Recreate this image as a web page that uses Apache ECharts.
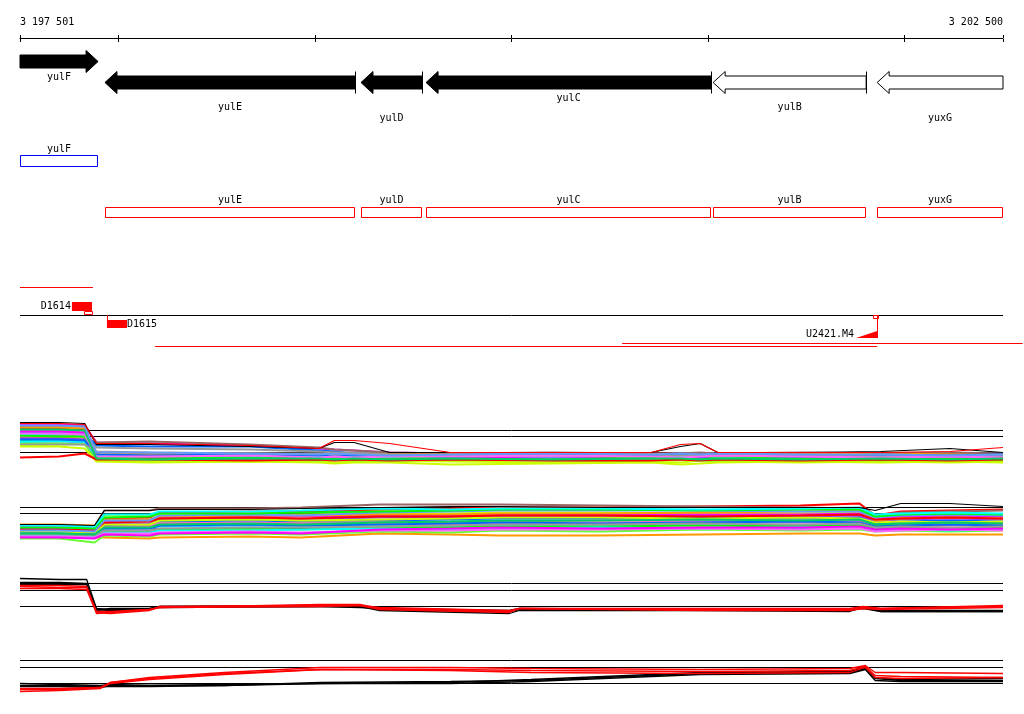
<!DOCTYPE html>
<html><head><meta charset="utf-8">
<script src="https://cdn.jsdelivr.net/npm/echarts@6/dist/echarts.min.js"></script>
<style>html,body{margin:0;padding:0;background:#fff}#c{width:1024px;height:714px}</style>
</head><body><div id="c"></div>
<script>
// ---------------- DATA ----------------
const VIEW_START = 3197501, VIEW_END = 3202500;
const axisTicks = [3197501, 3198000, 3199000, 3200000, 3201000, 3202000, 3202500];
const axisLabels = [3197501, 3202500];

const geneNames  = ['yulF', 'yulE', 'yulD', 'yulC', 'yulB', 'yuxG'];
const geneStart  = [3197501, 3197933, 3199235, 3199566, 3201026, 3201860];
const geneEnd    = [3197898, 3199205, 3199546, 3201016, 3201804, 3202500];
const geneStrand = ['+', '-', '-', '-', '-', '-'];
const geneFilled = [true, true, true, true, false, false];

const markerNames  = ['D1614', 'D1615', 'U2421.M4'];
const markerStart  = [3197765, 3197943, 3201753];
const markerEnd    = [3197867, 3198045, 3201860];
const markerStrand = ['+', '-', '-'];
const markerShape  = ['box', 'box', 'ramp'];
const siteStart = [3197827, 3201840];
const siteEnd   = [3197872, 3201870];
const siteStrand = ['+', '-'];
const upperReadStart = [3197501];
const upperReadEnd   = [3197872];
const lowerReadStart = [3198188, 3200563];
const lowerReadEnd   = [3201860, 3202600];

// track A (many conditions)
const A_POS = [3197501,3197700,3197830,3197890,3198160,3198670,3199020,3199100,3199200,3199380,3199690,3200200,3200710,3200860,3200960,3201050,3201470,3201880,3202230,3202500];
const A_REF = [40, 34, 18];
const A_SERIES = [
[46,46,45,28,27, 25,22,21,20,18, 17,16,16,17,17, 16,16,15,16,15],
[30,31,30,14,13, 12,12,11,12,11, 10,11,12,11,12, 11,12,11,10,11],
[36,36,35,15,14, 14,13,14,13,12, 12,13,12,13,12, 12,13,12,13,12],
[33,33,32,16,16, 15,15,15,16,15, 14,15,14,15,14, 15,15,16,15,14],
[42,42,41,17,17, 16,16,16,16,17, 16,16,17,17,17, 16,17,17,17,16],
[38,38,37,25,24, 24,20,19,17,16, 15,16,15,15,16, 15,16,15,14,15],
[34,35,34,23,22, 21,19,18,18,17, 16,17,16,17,16, 16,17,17,16,17],
[44,44,44,28,29, 26,23,21,20,18, 17,18,17,17,18, 17,18,17,18,17],
[25,26,27,10,9,  9,10,8,9,10,    9,8,9,8,10,      9,8,9,8,9],
[40,40,39,13,12, 13,12,13,12,13, 13,12,13,12,13, 12,13,12,13,12],
[28,29,28,12,12, 11,11,12,11,12, 11,12,11,12,11, 12,11,12,11,12],
[27,27,26,11,11, 10,10,11,10,10, 11,10,10,11,10, 10,11,10,11,10],
[32,32,31,14,15, 14,14,13,14,14, 13,14,13,14,13, 14,14,13,14,13],
[39,39,38,12,13, 12,13,12,13,12, 12,13,14,13,12, 13,12,14,13,14],
[35,34,34,13,12, 13,11,12,11,13, 12,11,13,12,11, 13,12,11,12,11],
[29,30,29,15,16, 15,14,15,14,14, 15,14,15,14,15, 14,15,14,15,14],
[43,43,42,17,16, 17,16,17,15,16, 16,15,16,16,15, 16,16,17,16,15],
[31,31,30,16,15, 16,15,16,15,15, 14,16,15,16,14, 15,14,16,15,16],
[26,26,26,19,18, 17,17,16,17,16, 15,15,14,15,15, 14,15,14,15,14],
[24,24,22,9,8,   9,8,7,8,8,      6,7,8,6,7,       8,9,8,9,8],
[13,14,17,11,11, 10,11,10,11,10, 11,10,10,11,10, 11,10,11,10,11],
[37,37,36,14,14, 15,13,14,13,14, 14,15,14,13,14, 15,14,13,14,13],
[41,41,40,12,11, 12,12,11,12,11, 12,11,12,12,11, 12,11,12,11,12],
[45,45,44,18,18, 17,16,17,16,15, 16,17,16,17,16, 17,16,16,15,16]
];
const A_BLACK = [48,48,47,26,26, 24,22,28,28,18, 18,18,18,24,27, 18,18,19,22,18];
const A_RED   = [47,47,46,27,27, 25,22,30,30,27, 18,18,18,26,27, 18,18,18,19,23];

// track B (many conditions)
const B_POS = [3197501,3197700,3197880,3197930,3198160,3198210,3198670,3198930,3199330,3199690,3199940,3200450,3200960,3201470,3201770,3201850,3201980,3202230,3202500];
const B_REF = [38, 32, 17];
const B_SERIES = [
[9,9,8,8,7, 8,9,8,12,11, 10,10,11,12,12, 10,11,11,11],
[18,18,17,27,28, 33,34,34,36,37, 38,38,39,40,42, 30,34,35,36],
[15,15,14,20,21, 24,25,24,25,26, 27,27,28,27,28, 22,24,25,24],
[16,16,15,19,20, 23,22,23,24,23, 24,25,26,25,26, 20,21,22,23],
[20,20,19,35,35, 37,37,38,41,41, 41,40,39,38,37, 30,33,34,35],
[14,14,13,30,30, 31,30,31,32,32, 33,33,32,32,33, 26,28,29,30],
[13,13,12,18,19, 22,23,22,22,21, 22,23,24,23,24, 18,19,20,21],
[12,12,11,16,17, 19,20,19,20,19, 20,20,21,20,21, 17,18,17,18],
[7,7,3,10,9, 11,12,11,14,13, 15,14,16,15,16, 14,15,14,15],
[17,17,16,22,22, 26,27,26,28,28, 29,29,30,29,30, 24,26,27,26],
[19,19,18,24,25, 28,29,29,30,30, 31,31,31,31,32, 27,29,30,29],
[11,11,10,14,14, 16,17,16,18,18, 19,19,20,19,20, 17,18,17,18],
[10,10,9,13,13, 15,15,16,17,16, 17,18,17,18,17, 15,16,15,16],
[21,21,20,26,26, 29,30,30,31,31, 32,32,33,34,35, 25,27,28,27],
[13,13,12,17,17, 20,21,20,21,22, 23,22,23,24,23, 19,20,21,20],
[11,11,10,15,15, 17,18,18,19,20, 21,21,22,21,22, 18,19,18,19],
[14,14,13,21,21, 25,26,25,26,27, 28,28,27,28,27, 23,24,23,24],
[16,16,15,23,24, 27,28,27,29,29, 30,30,29,30,31, 26,27,28,27],
[9,9,8,12,12, 13,14,13,15,15, 16,16,17,16,17, 14,15,16,15],
[12,12,11,18,18, 21,22,21,23,24, 25,25,26,25,26, 21,22,23,22],
[15,15,14,25,25, 30,31,30,33,34, 35,35,35,34,34, 28,30,31,30],
[8,8,7,11,10, 12,13,12,16,17, 18,17,18,18,19, 16,17,16,17],
[18,18,17,28,29, 32,32,33,34,35, 36,36,35,36,36, 29,31,32,31],
[20,20,19,31,31, 34,34,35,37,36, 37,37,36,37,38, 31,32,33,32]
];
const B_BLACK = [21,21,20,35,35, 36,36,37,38,39, 39,38,38,38,38, 35,42,42,39];

// track C
const C_POS = [3197501,3197700,3197840,3197890,3197960,3198160,3198210,3199030,3199230,3199330,3199990,3200040,3200960,3201720,3201790,3201880,3202500];
const C_REF = [37, 30, 14];
const C_BLACK = [
[42,41,41,12,11,12,13,14,14,10,7,10,10,9,13,9,9],
[38,38,37,11,10,11,14,15,15,11,9,11,11,10,13,10,10],
[36,36,36,10,12,12,14,14,13,12,10,12,11,11,12,9,9]
];
const C_RED = [
[35,35,34,8,7,10,13,16,16,12,9,12,11,11,13,12,15],
[32,32,31,7,8,11,14,15,15,13,10,12,12,12,14,12,14],
[34,33,33,9,9,11,13,14,15,11,8,12,10,10,12,11,13]
];

// track D
const D_POS = [3197501,3197700,3197910,3197960,3198160,3198540,3199030,3199690,3200100,3200960,3201720,3201800,3201850,3201980,3202500];
const D_REF = [35, 28, 12];
const D_BLACK = [
[12,11,10,11,10,11,12,13,16,23,24,28,18,16,17],
[9,9,8,10,10,10,13,14,15,22,23,27,17,15,15],
[10,10,9,9,9,10,12,12,14,21,22,26,15,14,14]
];
const D_RED = [
[6,6,8,13,18,23,28,28,27,26,27,30,23,23,22],
[4,5,7,12,16,21,26,26,25,24,25,29,20,19,18],
[7,7,8,13,17,22,26,25,23,22,23,28,18,17,18]
];

// ---------------- LAYOUT / STYLE ----------------
const FONT = '10px "DejaVu Sans Mono"';
const PALETTE = ['#ff00ff','#00ff00','#00ffff','#ff9900','#ff0000','#0066ff','#999999','#996666',
  '#ccff00','#ff66cc','#33ccff','#66ff33','#9933ff','#ff00ff','#00ff00','#00ffff','#ff9900','#0066ff',
  '#999999','#ccff00','#ff0000','#ff66ff','#00cc66','#6699ff'];
const L = {
  fwdY: 23.5, revY: 44.5, bodyHalf: 6.5, headHalf: 11, headLen: 12,
  geneLabelY: [39, 69, 80, 60, 69, 80],
  fwdBox: [117, 128, 111], revBox: [169, 179, 162],
  upperRead: 249, markAbove: [264, 273], siteAbove: [273, 277], base: 277,
  markBelow: [282, 290], siteBelow: [277, 281], ramp: [293, 300],
  lowerRead: [308, 305]
};
const LEFT = 20, RIGHT = 21;
const TRACKS = [
  {top: 420.5, h: 50}, {top: 500.5, h: 45}, {top: 572.5, h: 48}, {top: 655.5, h: 40}
];

function fmt(v){ return String(v).replace(/\B(?=(\d{3})+(?!\d))/g, ' '); }

// ---------------- RENDERERS ----------------
function geneItem(params, api){
  const i = params.dataIndex;
  const x1 = api.coord([geneStart[i], 0])[0], x2 = api.coord([geneEnd[i], 0])[0];
  const fwd = geneStrand[i] === '+';
  const cy = api.coord([VIEW_START, fwd ? L.fwdY : L.revY])[1];
  const bh = L.bodyHalf, hh = L.headHalf, hl = L.headLen;
  const pts = fwd
    ? [[x1,cy-bh],[x2-hl,cy-bh],[x2-hl,cy-hh],[x2,cy],[x2-hl,cy+hh],[x2-hl,cy+bh],[x1,cy+bh]]
    : [[x1,cy],[x1+hl,cy-hh],[x1+hl,cy-bh],[x2,cy-bh],[x2,cy+bh],[x1+hl,cy+bh],[x1+hl,cy+hh]];
  const ch = [{type:'polygon', shape:{points:pts},
    style:{fill: geneFilled[i] ? '#000' : '#fff', stroke:'#000', lineWidth:1}}];
  if (!fwd && geneEnd[i] < VIEW_END) {
    const xx = Math.round(x2) + 0.5;
    ch.push({type:'line', shape:{x1:xx, y1:cy-hh, x2:xx, y2:cy+hh}, style:{stroke:'#000', lineWidth:1}});
  }
  const ly = api.coord([VIEW_START, L.geneLabelY[i]])[1];
  ch.push({type:'text', style:{text: geneNames[i], x:(x1+x2)/2, y:ly, fill:'#000', font:FONT, align:'center', verticalAlign:'middle'}});
  return {type:'group', children: ch};
}

function boxItem(params, api){
  const i = params.dataIndex;
  const fwd = geneStrand[i] === '+';
  const row = fwd ? L.fwdBox : L.revBox;
  const x1 = Math.round(api.coord([geneStart[i], 0])[0]) + 0.5;
  const x2 = Math.round(api.coord([geneEnd[i], 0])[0]) - 0.5;
  const y1 = Math.round(api.coord([VIEW_START, row[0]])[1]) + 0.5;
  const y2 = Math.round(api.coord([VIEW_START, row[1]])[1]) + 0.5;
  const ly = api.coord([VIEW_START, row[2]])[1];
  return {type:'group', children:[
    {type:'rect', shape:{x:x1, y:y1, width:x2-x1, height:y2-y1}, style:{fill:'none', stroke: fwd ? '#0000ff' : '#ff0000', lineWidth:1}},
    {type:'text', style:{text: geneNames[i], x:(x1+x2)/2, y:ly, fill:'#000', font:FONT, align:'center', verticalAlign:'middle'}}
  ]};
}

function featureItem(params, api){
  const X = v => api.coord([v, 0])[0];
  const Y = v => api.coord([VIEW_START, v])[1];
  const ch = [];
  const hline = (a, b, y, c) => ch.push({type:'line', shape:{x1:X(a), y1:Math.round(Y(y))+0.5, x2:X(b), y2:Math.round(Y(y))+0.5}, style:{stroke:c, lineWidth:1}});
  upperReadStart.forEach((s, i) => hline(s, upperReadEnd[i], L.upperRead, '#ff0000'));
  hline(VIEW_START, VIEW_END, L.base, '#000');
  lowerReadStart.forEach((s, i) => hline(s, lowerReadEnd[i], L.lowerRead[i], '#ff0000'));
  siteStart.forEach((s, i) => {
    const r = siteStrand[i] === '+' ? L.siteAbove : L.siteBelow;
    const x1 = Math.round(X(s)) + 0.5, x2 = Math.round(X(siteEnd[i])) - 0.5;
    ch.push({type:'rect', shape:{x:x1, y:Math.round(Y(r[0]))+0.5, width:x2-x1, height:Y(r[1])-Y(r[0])-1}, style:{fill:'#fff', stroke:'#ff0000', lineWidth:1}});
  });
  markerNames.forEach((n, i) => {
    const xs = X(markerStart[i]), xe = X(markerEnd[i]);
    if (markerShape[i] === 'box') {
      if (markerStrand[i] === '+') {
        const r = L.markAbove;
        ch.push({type:'rect', shape:{x:xs, y:Y(r[0]), width:xe-xs, height:Y(r[1])-Y(r[0])}, style:{fill:'#ff0000'}});
        ch.push({type:'text', style:{text:n, x:xs-1, y:(Y(r[0])+Y(r[1]))/2, fill:'#000', font:FONT, align:'right', verticalAlign:'middle'}});
      } else {
        const r = L.markBelow;
        const xx = Math.round(xs) + 0.5;
        ch.push({type:'line', shape:{x1:xx, y1:Y(L.base), x2:xx, y2:Y(r[0])}, style:{stroke:'#ff0000', lineWidth:1}});
        ch.push({type:'rect', shape:{x:xs, y:Y(r[0]), width:xe-xs, height:Y(r[1])-Y(r[0])}, style:{fill:'#ff0000'}});
        ch.push({type:'text', style:{text:n, x:xe, y:(Y(r[0])+Y(r[1]))/2, fill:'#000', font:FONT, align:'left', verticalAlign:'middle'}});
      }
    } else {
      const r = L.ramp;
      const xx = Math.round(xe) + 0.5;
      ch.push({type:'polygon', shape:{points:[[xs, Y(r[1])], [xe, Y(r[0])], [xe, Y(r[1])]]}, style:{fill:'#ff0000'}});
      ch.push({type:'line', shape:{x1:xx, y1:Y(L.base), x2:xx, y2:Y(r[1])}, style:{stroke:'#ff0000', lineWidth:1}});
      ch.push({type:'text', style:{text:n, x:xs-2, y:(Y(r[0])+Y(r[1]))/2, fill:'#000', font:FONT, align:'right', verticalAlign:'middle'}});
    }
  });
  return {type:'group', children: ch};
}

// ---------------- OPTION ----------------
const grids = [
  {left: LEFT, right: RIGHT, top: 38, height: 320},
  {left: LEFT, right: RIGHT, top: 38, height: 1}
].concat(TRACKS.map(t => ({left: LEFT, right: RIGHT, top: t.top, height: t.h})));
grids.forEach(g => { g.containLabel = false; g.outerBoundsMode = 'none'; });

const xAxes = [
  {gridIndex:0, type:'value', min:VIEW_START, max:VIEW_END, position:'top',
   axisLine:{show:true, lineStyle:{color:'#000', width:1}},
   axisTick:{show:true, inside:false, length:3, customValues: axisTicks, lineStyle:{color:'#000'}},
   axisLabel:{show:true, customValues: axisLabels, formatter: fmt, margin: 11, color:'#000',
     fontFamily:'DejaVu Sans Mono', fontSize:10, alignMinLabel:'left', alignMaxLabel:'right'},
   splitLine:{show:false}},
  {gridIndex:1, type:'value', min:VIEW_START, max:VIEW_END, position:'top',
   axisLine:{show:false},
   axisTick:{show:true, inside:true, length:3, customValues: axisTicks, lineStyle:{color:'#000'}},
   axisLabel:{show:false}, splitLine:{show:false}}
].concat(TRACKS.map((t, k) => ({gridIndex:k+2, type:'value', min:VIEW_START, max:VIEW_END, show:false})));

const yAxes = [
  {gridIndex:0, type:'value', min:0, max:320, inverse:true, show:false},
  {gridIndex:1, type:'value', min:0, max:1, show:false}
].concat(TRACKS.map((t, k) => ({gridIndex:k+2, type:'value', min:0, max:t.h, show:false})));

const series = [
  {type:'custom', xAxisIndex:0, yAxisIndex:0, renderItem: geneItem, data: geneStart.map((s,i)=>[s, geneEnd[i]]), encode:{x:[0,1]}, clip:false, silent:true},
  {type:'custom', xAxisIndex:0, yAxisIndex:0, renderItem: boxItem, data: geneStart.map((s,i)=>[s, geneEnd[i]]), encode:{x:[0,1]}, clip:false, silent:true},
  {type:'custom', xAxisIndex:0, yAxisIndex:0, renderItem: featureItem, data: [[VIEW_START, VIEW_END]], encode:{x:[0,1]}, clip:false, silent:true}
];

function lineS(k, pos, vals, color, width, z){
  return {type:'line', xAxisIndex:k+2, yAxisIndex:k+2, data: pos.map((p, j) => [p, vals[j]]),
    showSymbol:false, symbol:'none', silent:true, z: z,
    lineStyle:{color: color, width: width}, itemStyle:{color: color}, emphasis:{disabled:true}};
}
function refs(k, vals){
  vals.forEach(v => series.push(lineS(k, [VIEW_START, VIEW_END], [v, v], '#000', 1, 1)));
}
refs(0, A_REF);
A_SERIES.forEach((s, i) => series.push(lineS(0, A_POS, s, PALETTE[i % PALETTE.length], 2, 2)));
series.push(lineS(0, A_POS, A_BLACK, '#000', 1.2, 3));
series.push(lineS(0, A_POS, A_RED, '#ff0000', 1.2, 3));

refs(1, B_REF);
B_SERIES.forEach((s, i) => series.push(lineS(1, B_POS, s, PALETTE[(i + 3) % PALETTE.length], 2, 2)));
series.push(lineS(1, B_POS, B_BLACK, '#000', 1.2, 3));

refs(2, C_REF);
C_BLACK.forEach(s => series.push(lineS(2, C_POS, s, '#000', 1.3, 2)));
C_RED.forEach(s => series.push(lineS(2, C_POS, s, '#ff0000', 1.3, 3)));

refs(3, D_REF);
D_BLACK.forEach(s => series.push(lineS(3, D_POS, s, '#000', 1.3, 2)));
D_RED.forEach(s => series.push(lineS(3, D_POS, s, '#ff0000', 1.3, 3)));

const chart = echarts.init(document.getElementById('c'), null, {renderer:'canvas', devicePixelRatio:1});
chart.setOption({
  animation:false, backgroundColor:'#fff',
  grid: grids, xAxis: xAxes, yAxis: yAxes, series: series
});
</script></body></html>
